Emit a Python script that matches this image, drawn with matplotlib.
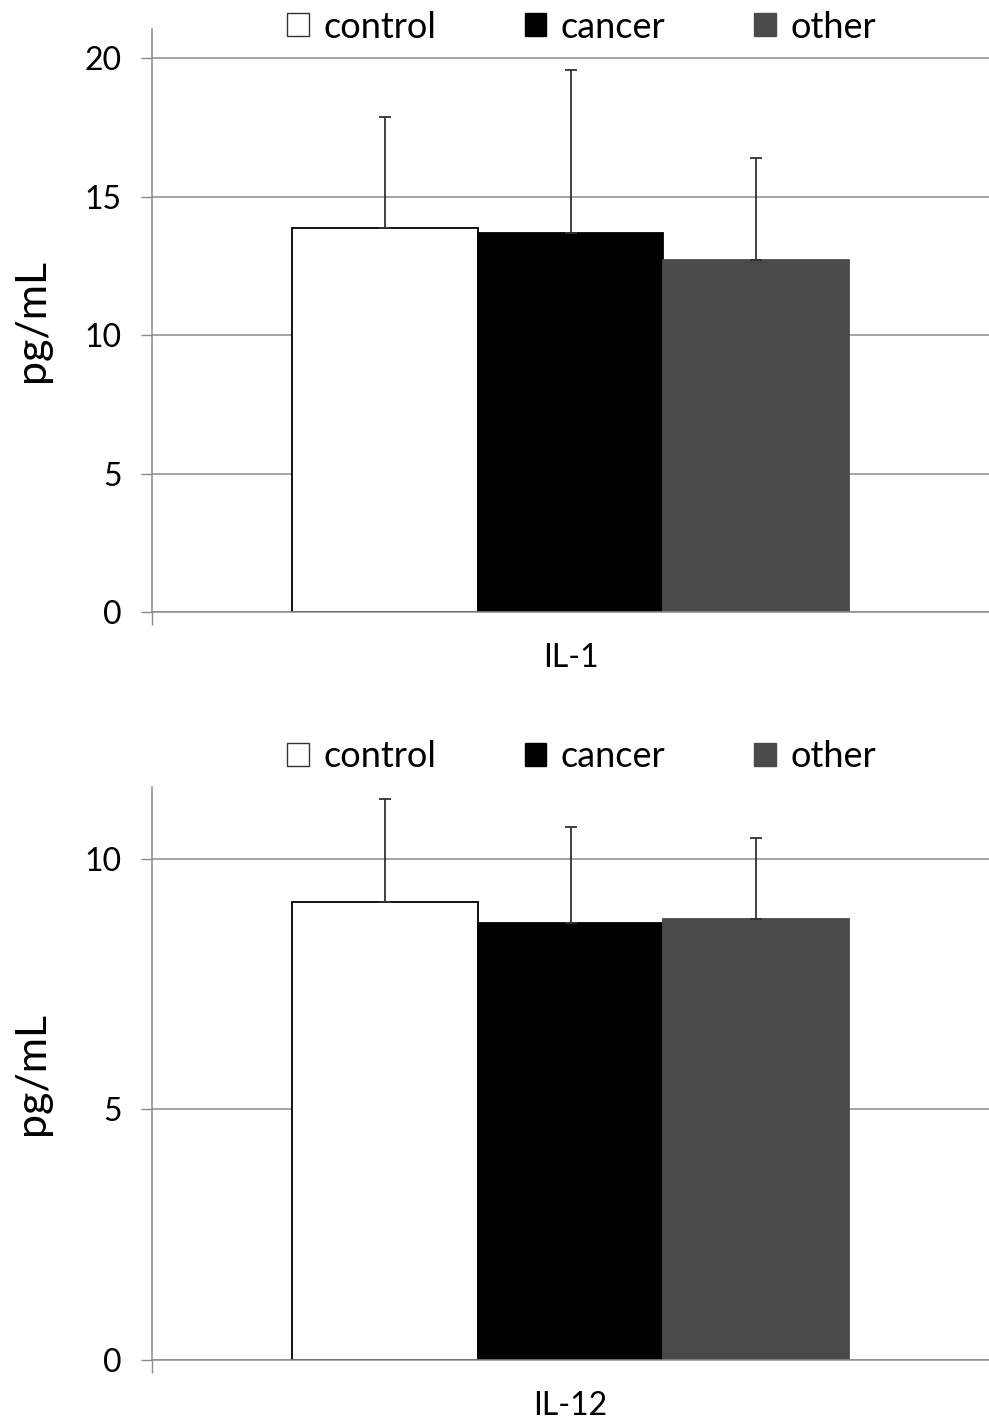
import matplotlib

matplotlib.use("Agg")
import matplotlib.pyplot as plt
from matplotlib.patches import Patch

plt.rcParams["font.family"] = ["Lato", "DejaVu Sans"]

groups = ["control", "cancer", "other"]
colors = ["white", "black", "#4a4a4a"]

il1_means = [13.86, 13.68, 12.70]
il1_errs = [4.01, 5.89, 3.69]
il12_means = [9.13, 8.71, 8.79]
il12_errs = [2.06, 1.93, 1.63]

panels = [
    ("IL-1", il1_means, il1_errs, 21.05, [0, 5, 10, 15, 20],
     [0.1537, 0.5693, 0.8463, 0.4103], 1 - 27 / 1421),
    ("IL-12", il12_means, il12_errs, 11.43, [0, 5, 10],
     [0.1537, 0.0429, 0.8463, 0.4033], 1 - 757 / 1421),
]

fig = plt.figure(figsize=(9.89, 14.21), dpi=100)
width = 0.222
offsets = [-width, 0, width]
grid_c = "#8c8c8c"

for name, means, errs, ymax, yticks, rect, leg_y in panels:
    ax = fig.add_axes(rect)
    for off, m, e, c in zip(offsets, means, errs, colors):
        ax.bar(off, m, width, color=c, edgecolor="black" if c == "white" else c,
               linewidth=1.3, zorder=2)
        ax.errorbar(off, m, yerr=[[0], [e]], color="#333333", elinewidth=1.3,
                    capsize=4, capthick=1.3, zorder=3)
    ax.set_xlim(-0.5, 0.5)
    ax.set_ylim(0, ymax)
    ax.set_yticks(yticks)
    ax.tick_params(axis="y", length=8, width=1, color=grid_c, labelsize=23,
                   pad=14)
    ax.yaxis.grid(True, color=grid_c, linewidth=1.1, zorder=0)
    ax.set_axisbelow(True)
    # category boundary tick only, label sits in the middle
    ax.set_xticks([-0.5])
    ax.set_xticklabels([""])
    ax.tick_params(axis="x", length=9, width=1, color=grid_c)
    ax.set_xlabel(name, fontsize=23, labelpad=10)
    for s in ["top", "right"]:
        ax.spines[s].set_visible(False)
    for s in ["left", "bottom"]:
        ax.spines[s].set_color(grid_c)
        ax.spines[s].set_linewidth(1.1)
    ax.set_ylabel("pg/mL", fontsize=31, labelpad=24)

    handles = [Patch(facecolor=c, edgecolor="#333333" if c == "white" else c,
                     linewidth=1) for c in colors]
    fig.legend(handles, groups, loc="center", bbox_to_anchor=(0.588, leg_y),
               ncol=3, frameon=False, fontsize=26, handlelength=0.6,
               handleheight=0.6, handletextpad=0.4, columnspacing=2.45)

fig.savefig("out.png", dpi=100)
